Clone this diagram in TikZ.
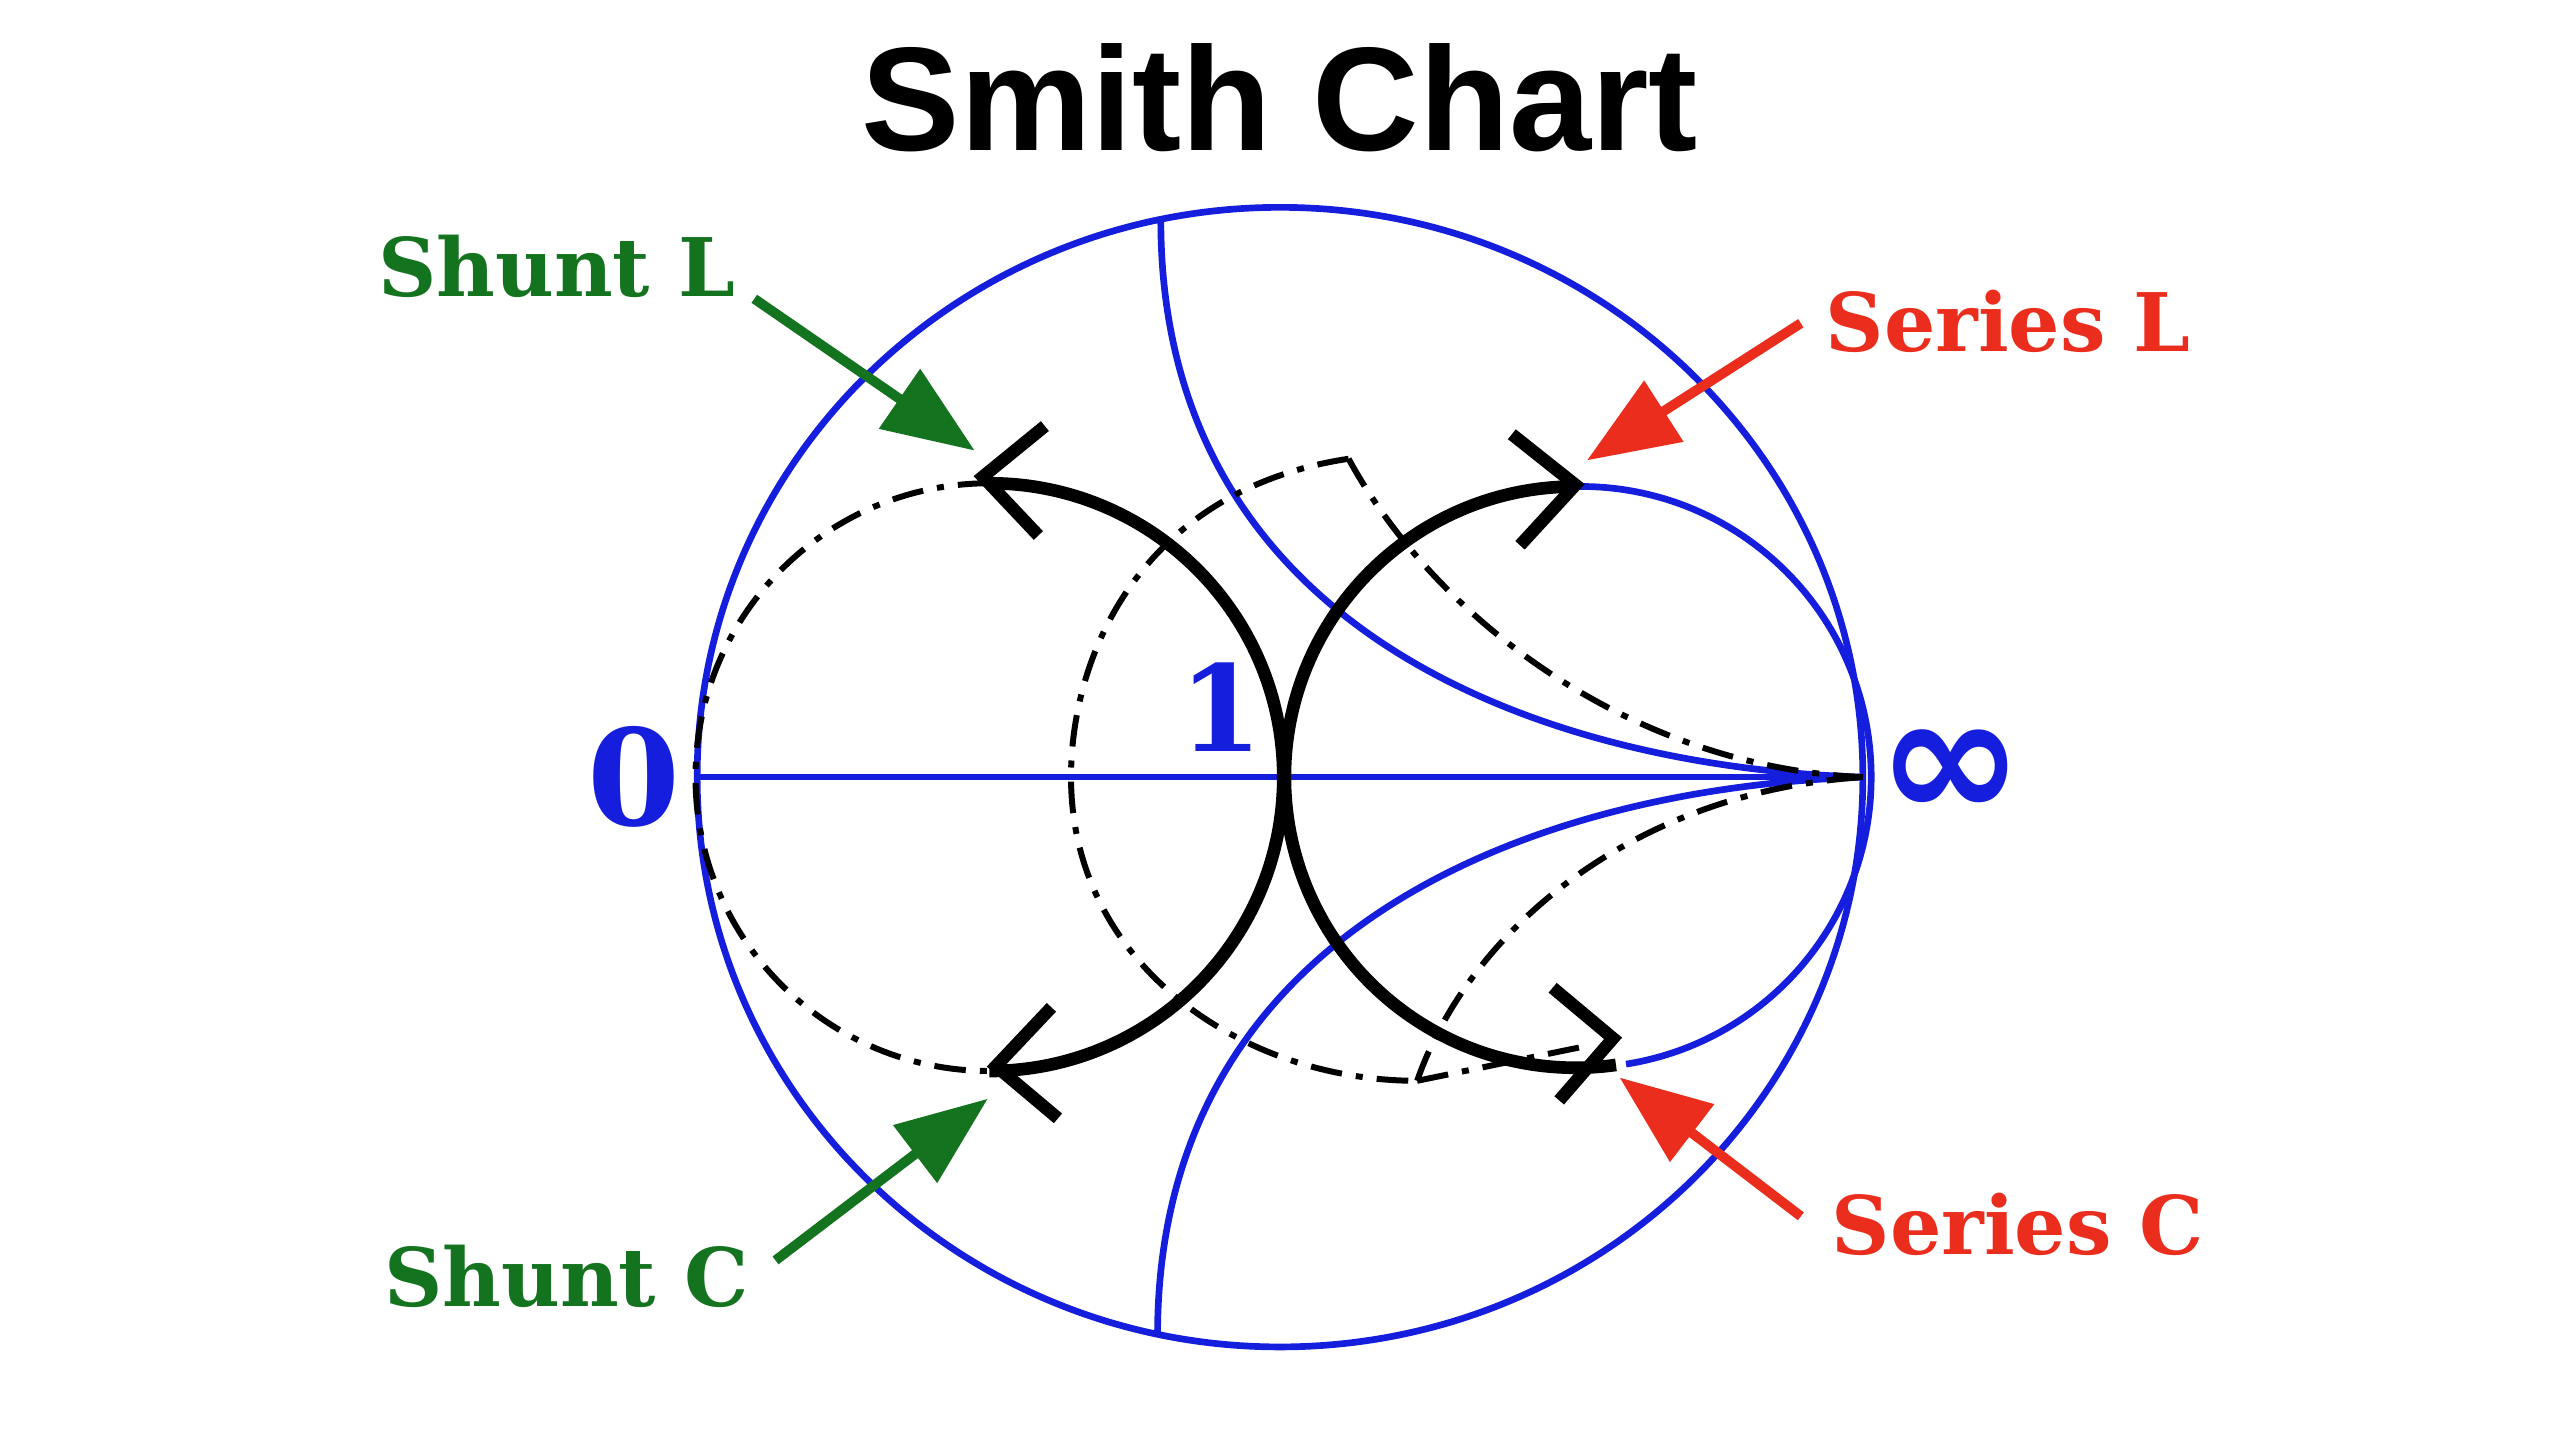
\documentclass[tikz,border=0pt]{standalone}
\usepackage{fontspec}
\setmainfont{DejaVu Serif}
\setsansfont{Liberation Sans}
\newfontfamily\djs{DejaVu Sans}
\usetikzlibrary{arrows.meta}
\definecolor{cb}{RGB}{20,30,220}
\definecolor{cg}{RGB}{20,115,30}
\definecolor{cr}{RGB}{235,45,30}
\begin{document}
\begin{tikzpicture}[x=0.016327cm,y=-0.016327cm,
 blue/.style={draw=cb,line width=1.9pt},
 blk/.style={draw=black,line width=3.6pt},
 chev/.style={draw=black,line width=3.6pt,line join=miter},
 dd/.style={draw=black,line width=1.7pt,dash pattern=on 9pt off 4pt on 2pt off 4pt},
 lab/.style={font=\bfseries\fontsize{23}{26}\selectfont},
 pt/.style={-{Triangle[length=26pt,width=20pt]},line width=2.8pt}]
\useasboundingbox (0,0) rectangle (1568,875);
\node[font=\sffamily\bfseries\fontsize{42}{46}\selectfont] (t) at (784,60) {Smith Chart};
\draw[blue] (784,476) ellipse [x radius=357, y radius=349];
\draw[blue] (427,476) -- (1141,476);
\draw[blue] (711,135) .. controls (711,390) and (950,470) .. (1141,476);
\draw[blue] (709,818) .. controls (709,562) and (950,482) .. (1141,476);
% r=1 circle
\draw[blue] (965,298) arc[start angle=-91,end angle=81,radius=178];
\draw[blk] (787,476) arc[start angle=180,end angle=269,radius=178];
\draw[blk] (787,476) arc[start angle=180,end angle=82,radius=178];
% g=1 circle
\draw[blk] (606,296) arc[start angle=-90,end angle=90,radius=180];
\draw[dd] (606,296) arc[start angle=-90,end angle=-270,radius=180];
% dashed
\draw[dd] (826,281) .. controls (700,300) and (656,400) .. (656,476) .. controls (656,590) and (760,662) .. (868,662);
\draw[dd] (826,281) .. controls (880,380) and (1000,470) .. (1141,476);
\draw[dd] (868,662) .. controls (900,570) and (1000,485) .. (1141,476);
\draw[dd] (868,662) -- (975,640);
% chevrons
\coordinate (c1) at (602,292); \draw[chev] (640,261) -- (c1) -- (636,328);
\coordinate (c2) at (965,297); \draw[chev] (926,266) -- (c2) -- (931,334);
\coordinate (c3) at (610,653); \draw[chev] (644,617) -- (c3) -- (648,685);
\coordinate (c4) at (988,636); \draw[chev] (951,605) -- (c4) -- (955,674);
% labels
\node[text=cb,font=\bfseries\fontsize{38}{42}\selectfont] (z) at (388,476) {0};
\node[text=cb,font=\bfseries\fontsize{34}{40}\selectfont] (o) at (748,433) {1};
\node[text=cb,font=\djs\bfseries\fontsize{50}{54}\selectfont] (inf) at (1195,474) {∞};
\node[lab,text=cg] (sl) at (341,163) {Shunt L};
\node[lab,text=cr] (sel) at (1230,197) {Series L};
\node[lab,text=cg] (sc) at (347,782) {Shunt C};
\node[lab,text=cr] (sec) at (1236,750) {Series C};
\coordinate (a1) at (462,183); \coordinate (b1) at (597,276);
\coordinate (a2) at (1103,198); \coordinate (b2) at (972,282);
\coordinate (a3) at (475,772); \coordinate (b3) at (605,673);
\coordinate (a4) at (1103,745); \coordinate (b4) at (992,660);
\draw[pt,draw=cg,fill=cg] (a1) -- (b1);
\draw[pt,draw=cr,fill=cr] (a2) -- (b2);
\draw[pt,draw=cg,fill=cg] (a3) -- (b3);
\draw[pt,draw=cr,fill=cr] (a4) -- (b4);
\end{tikzpicture}
\end{document}
